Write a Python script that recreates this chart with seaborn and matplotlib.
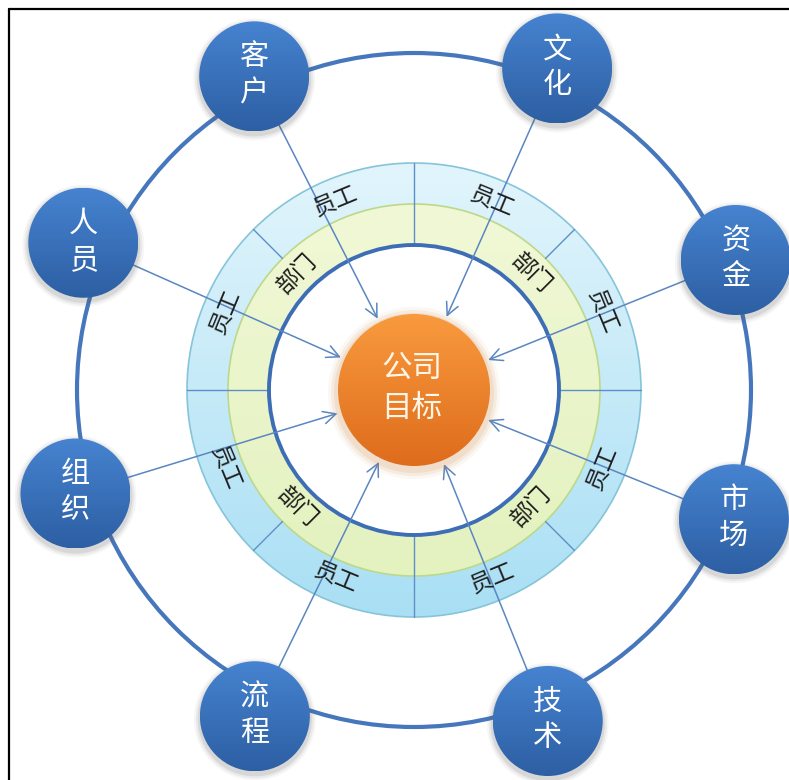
import numpy as np
import matplotlib
matplotlib.use("Agg")
import matplotlib.pyplot as plt
import seaborn as sns
from matplotlib.patches import Circle, Wedge, FancyArrowPatch, ArrowStyle
from matplotlib.colors import LinearSegmentedColormap
from matplotlib.lines import Line2D

sns.set_theme(style="white")
plt.rcParams['font.family'] = ['Noto Sans CJK SC', 'DejaVu Sans']

# ---------------- data ----------------
node_labels = ["客户", "文化", "资金", "市场", "技术", "流程", "组织", "人员"]
node_angles = [117, 66, 22, -22, -68, -116, 197, 156]
node_dist = [352, 352, 347, 345, 357, 363, 354, 362]
center_label = ["公司", "目标"]
dept_labels = ["部门", "部门", "部门", "部门"]
dept_angles = [45, 135, 225, 315]
staff_labels = ["员工"] * 8
staff_angles = [22.5, 67.5, 112.5, 157.5, 202.5, 247.5, 292.5, 337.5]
dept_dividers = [0, 90, 180, 270]
staff_dividers = [45, 135, 225, 315]

# ---------------- layout ----------------
W, H = 789, 780
cx, cy = 414, 390
R_CENTER = 76
R_INNER = 145
R_GREEN = 186
R_BLUE = 227
R_BIG = 337
R_NODE = 55

fig = plt.figure(figsize=(W / 100, H / 100), dpi=100)
ax = fig.add_axes([0, 0, 1, 1])
ax.set_xlim(0, W)
ax.set_ylim(0, H)
ax.set_aspect('auto')
ax.axis('off')
fig.patch.set_facecolor('white')


def grad_patch(patch, top, bottom, z, extent):
    patch.set_facecolor('none')
    patch.set_edgecolor('none')
    patch.set_zorder(z)
    ax.add_patch(patch)
    cmap = LinearSegmentedColormap.from_list('g', sns.blend_palette([bottom, top], 8))
    im = ax.imshow(np.linspace(0, 1, 256).reshape(-1, 1), cmap=cmap,
                   extent=extent, origin='lower', aspect='auto', zorder=z,
                   interpolation='bilinear')
    im.set_clip_path(patch)
    return im


def pol(a, r):
    t = np.deg2rad(a)
    return cx + r * np.cos(t), cy + r * np.sin(t)


# big outer ring
ax.add_patch(Circle((cx, cy), R_BIG, fill=False, edgecolor='#4677BD', lw=3.0, zorder=1))

# blue band (gradient)
grad_patch(Wedge((cx, cy), R_BLUE, 0, 360, width=R_BLUE - R_GREEN),
           '#E2F5FC', '#A9DFF4', 2,
           (cx - R_BLUE, cx + R_BLUE, cy - R_BLUE, cy + R_BLUE))
ax.add_patch(Circle((cx, cy), R_BLUE, fill=False, edgecolor='#86C4DA', lw=1.2, zorder=2.5))

# green band
grad_patch(Wedge((cx, cy), R_GREEN, 0, 360, width=R_GREEN - R_INNER),
           '#F1F8D6', '#E3F2BF', 3,
           (cx - R_GREEN, cx + R_GREEN, cy - R_GREEN, cy + R_GREEN))
ax.add_patch(Circle((cx, cy), R_GREEN, fill=False, edgecolor='#BCD88A', lw=1.2, zorder=3.5))

# dividers
for a in dept_dividers:
    x0, y0 = pol(a, R_INNER)
    x1, y1 = pol(a, R_BLUE)
    ax.add_line(Line2D([x0, x1], [y0, y1], color='#5E8FC8', lw=1.0, zorder=4))
for a in staff_dividers:
    x0, y0 = pol(a, R_GREEN)
    x1, y1 = pol(a, R_BLUE)
    ax.add_line(Line2D([x0, x1], [y0, y1], color='#5E8FC8', lw=1.0, zorder=4))

# inner thick ring
ax.add_patch(Circle((cx, cy), R_INNER, facecolor='white', edgecolor='#3D6DB5', lw=2.8, zorder=4.5))

# labels in bands
def band_label(text, a, r):
    x, y = pol(a, r)
    a_n = a % 360
    rot = a_n - 90 if 0 < a_n < 180 else a_n + 90
    ax.text(x, y, text, rotation=rot, rotation_mode='anchor', ha='center', va='center',
            fontsize=16.5, fontweight='light', color='#1E1E1E', zorder=7)

for t, a in zip(staff_labels, staff_angles):
    band_label(t, a, 204)
for t, a in zip(dept_labels, dept_angles):
    band_label(t, a, 165)

# arrows
astyle = ArrowStyle('->', head_length=9, head_width=4.5)
for a, d in zip(node_angles, node_dist):
    xs, ys = pol(a, d)
    xe, ye = pol(a, R_CENTER + 4)
    ax.add_patch(FancyArrowPatch((xs, ys), (xe, ye), arrowstyle=astyle, color='#5A86C2',
                                 lw=1.1, shrinkA=0, shrinkB=0, zorder=6))

# center circle glow + gradient
for k, al in zip([10, 7, 4], [0.06, 0.09, 0.12]):
    ax.add_patch(Circle((cx, cy - 3), R_CENTER + k, facecolor='#C9782F', edgecolor='none',
                        alpha=al, zorder=7.5))
grad_patch(Circle((cx, cy), R_CENTER), '#F99A3E', '#DE6C1C', 8,
           (cx - R_CENTER, cx + R_CENTER, cy - R_CENTER, cy + R_CENTER))
ax.text(cx - 2, cy + 22, center_label[0], ha='center', va='center', fontsize=22,
        fontweight='light', color='#FFF6E8', zorder=9)
ax.text(cx - 2, cy - 18, center_label[1], ha='center', va='center', fontsize=22,
        fontweight='light', color='#FFF6E8', zorder=9)

# satellites
for lab, a, d in zip(node_labels, node_angles, node_dist):
    x, y = pol(a, d)
    for k, al in zip([6, 4, 2], [0.05, 0.08, 0.12]):
        ax.add_patch(Circle((x, y - 3), R_NODE + k, facecolor='#555555', edgecolor='none',
                            alpha=al, zorder=8))
    grad_patch(Circle((x, y), R_NODE), '#4683D0', '#2D5FA3', 8.5,
               (x - R_NODE, x + R_NODE, y - R_NODE, y + R_NODE))
    ax.text(x, y + 19, lab[0], ha='center', va='center', fontsize=21,
            fontweight='light', color='white', zorder=9)
    ax.text(x, y - 17, lab[1], ha='center', va='center', fontsize=21,
            fontweight='light', color='white', zorder=9)

# frame lines (top and left)
ax.add_line(Line2D([9, 9], [0, H - 9], color='black', lw=1.6, zorder=10))
ax.add_line(Line2D([9, W], [H - 9, H - 9], color='black', lw=1.6, zorder=10))

ax.set_xlim(0, W)
ax.set_ylim(0, H)
fig.savefig('out.png', dpi=100, facecolor='white')
